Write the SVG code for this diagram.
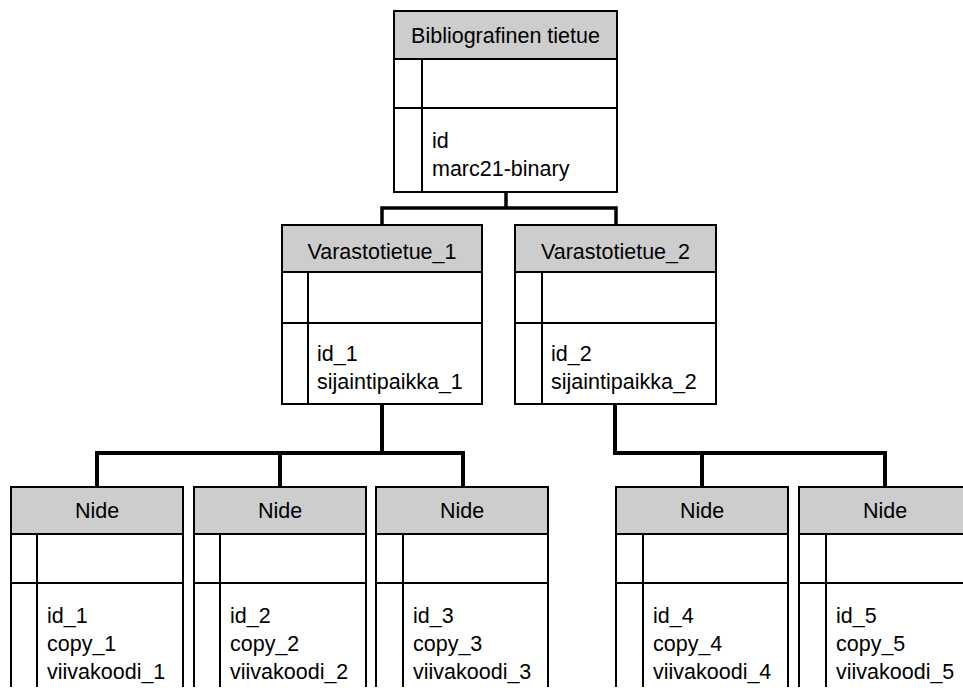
<svg xmlns="http://www.w3.org/2000/svg" width="963" height="691" viewBox="0 0 963 691">
  <style>
    .box { fill: #ffffff; stroke: #000000; stroke-width: 2; }
    .hdr { fill: #cdcdcd; stroke: #000000; stroke-width: 2; }
    .ln { fill: none; stroke: #000000; stroke-width: 2; }
    .conn { fill: none; stroke: #000000; stroke-width: 4; stroke-linejoin: miter; stroke-linecap: square; }
    .t { font-family: "Liberation Sans", Arial, sans-serif; font-size: 21.5px; fill: #000000; }
    .c { text-anchor: middle; }
  </style>

  <!-- connectors between records -->
  <g id="connectors">
    <path class="conn" style="stroke-width:3.5" d="M506,193 V208 M382,225 V208 H616 V225"/>
    <path class="conn" d="M382,405 V453 M97,486 V453 H463 V486 M280,453 V486"/>
    <path class="conn" d="M615,405 V453 H885 V486 M702,453 V486"/>
  </g>

  <!-- bibliographic record -->
  <g id="bib">
    <rect class="box" x="394" y="11" width="223" height="181"/>
    <rect class="hdr" x="394" y="11" width="223" height="48"/>
    <path class="ln" d="M394,108 H617 M422,59 V192"/>
    <text class="t c" x="505.5" y="43">Bibliografinen tietue</text>
    <text class="t" x="432" y="148">id</text>
    <text class="t" x="432" y="176">marc21-binary</text>
  </g>

  <!-- holdings records -->
  <g id="holding1">
    <rect class="box" x="282" y="225" width="200" height="179"/>
    <rect class="hdr" x="282" y="225" width="200" height="47"/>
    <path class="ln" d="M282,323 H482 M308,272 V404"/>
    <text class="t c" x="382" y="259">Varastotietue_1</text>
    <text class="t" x="317" y="361">id_1</text>
    <text class="t" x="317" y="389">sijaintipaikka_1</text>
  </g>
  <g id="holding2">
    <rect class="box" x="515" y="225" width="201" height="179"/>
    <rect class="hdr" x="515" y="225" width="201" height="47"/>
    <path class="ln" d="M515,323 H716 M542,272 V404"/>
    <text class="t c" x="615.5" y="259">Varastotietue_2</text>
    <text class="t" x="551" y="361">id_2</text>
    <text class="t" x="551" y="389">sijaintipaikka_2</text>
  </g>

  <!-- item records (run past the bottom edge) -->
  <g id="item1">
    <path class="ln" d="M11,687 V487 H183 V687 M11,534 H183 M11,583 H183 M37,534 V687"/>
    <rect class="hdr" x="11" y="487" width="172" height="47"/>
    <text class="t c" x="97" y="518">Nide</text>
    <text class="t" x="47" y="623">id_1</text>
    <text class="t" x="47" y="651">copy_1</text>
    <text class="t" x="47" y="679">viivakoodi_1</text>
  </g>
  <g id="item2">
    <path class="ln" d="M194,687 V487 H366 V687 M194,583 H366 M220,534 V687"/>
    <rect class="hdr" x="194" y="487" width="172" height="47"/>
    <text class="t c" x="280" y="518">Nide</text>
    <text class="t" x="230" y="623">id_2</text>
    <text class="t" x="230" y="651">copy_2</text>
    <text class="t" x="230" y="679">viivakoodi_2</text>
  </g>
  <g id="item3">
    <path class="ln" d="M376,687 V487 H548 V687 M376,583 H548 M403,534 V687"/>
    <rect class="hdr" x="376" y="487" width="172" height="47"/>
    <text class="t c" x="462" y="518">Nide</text>
    <text class="t" x="413" y="623">id_3</text>
    <text class="t" x="413" y="651">copy_3</text>
    <text class="t" x="413" y="679">viivakoodi_3</text>
  </g>
  <g id="item4">
    <path class="ln" d="M616,687 V487 H788 V687 M616,583 H788 M643,534 V687"/>
    <rect class="hdr" x="616" y="487" width="172" height="47"/>
    <text class="t c" x="702" y="518">Nide</text>
    <text class="t" x="653" y="623">id_4</text>
    <text class="t" x="653" y="651">copy_4</text>
    <text class="t" x="653" y="679">viivakoodi_4</text>
  </g>
  <g id="item5">
    <path class="ln" d="M799,687 V487 H971 V687 M799,583 H971 M826,534 V687"/>
    <rect class="hdr" x="799" y="487" width="172" height="47"/>
    <text class="t c" x="885" y="518">Nide</text>
    <text class="t" x="836" y="623">id_5</text>
    <text class="t" x="836" y="651">copy_5</text>
    <text class="t" x="836" y="679">viivakoodi_5</text>
  </g>
</svg>
